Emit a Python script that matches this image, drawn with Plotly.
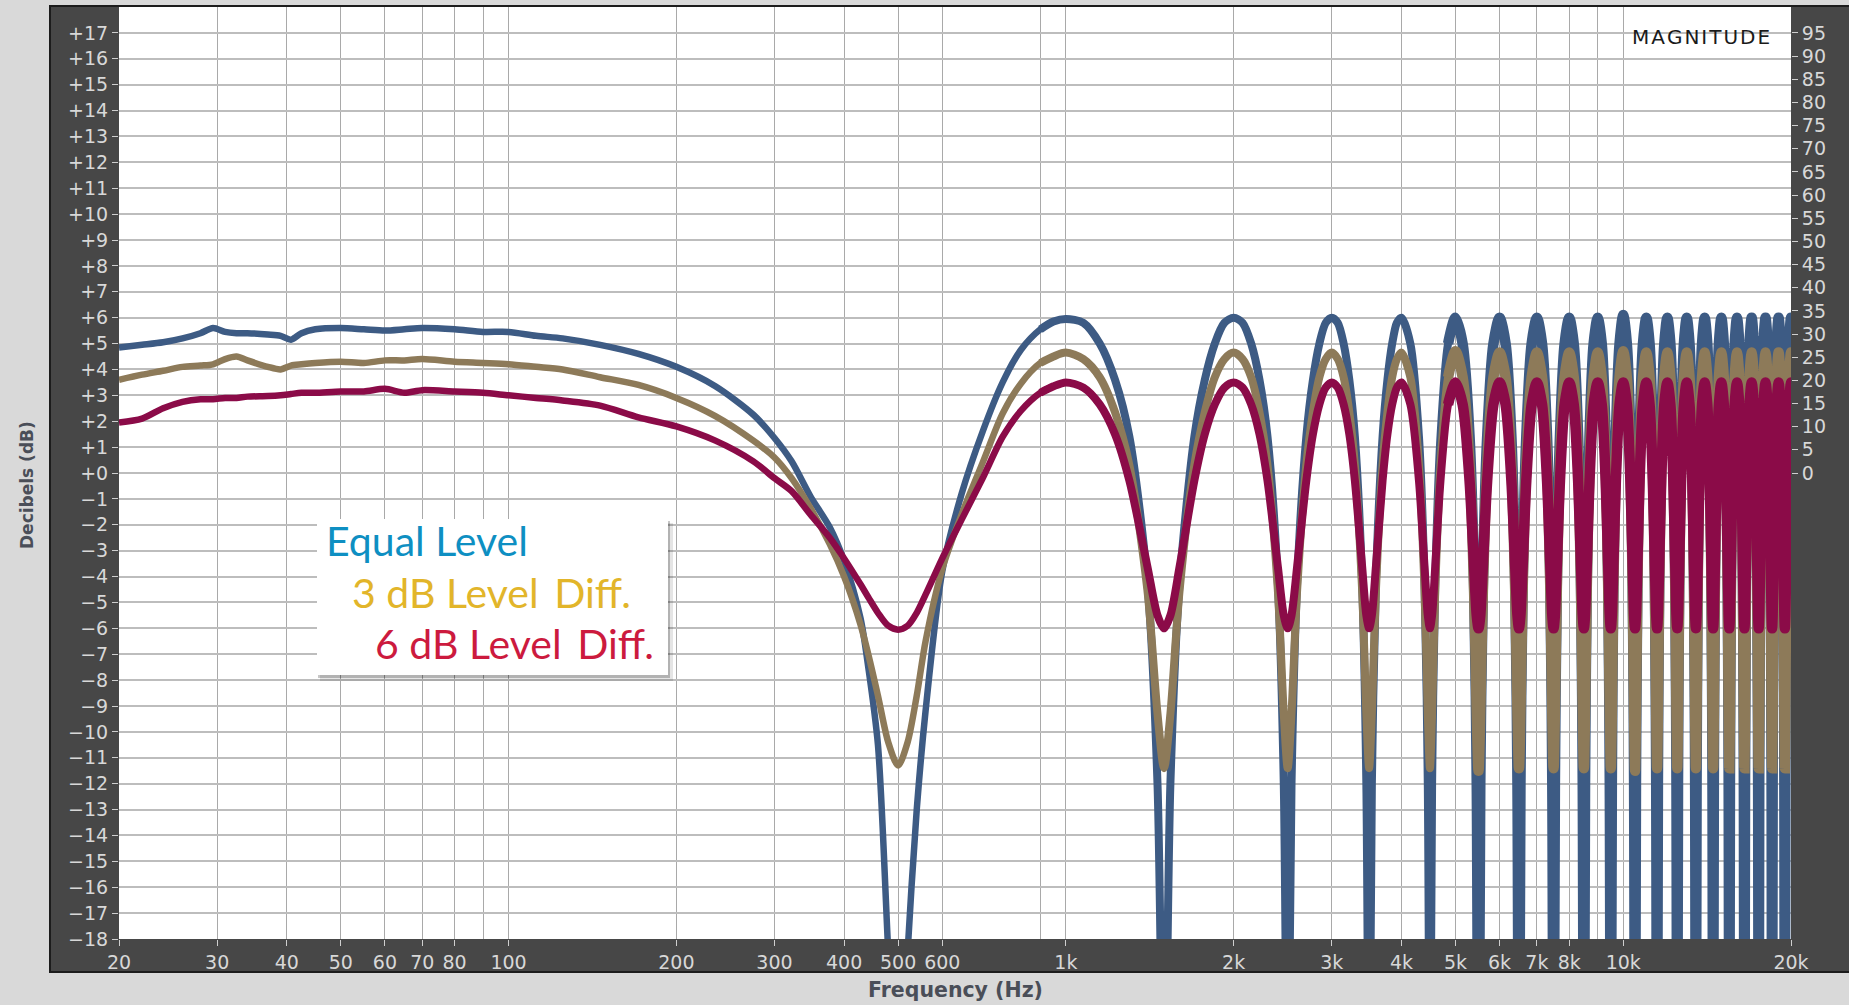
import math
import plotly.graph_objects as go

# ---------------- data ----------------
# low / mid frequency section (Hz)
freq_low_hz = [20, 22, 24, 26, 28, 29.5, 31, 32.5, 34, 37,
               39, 40.7, 42.5, 45, 50, 55, 60, 65, 70, 80,
               90, 100, 112, 125, 146, 171, 200, 235, 275, 300,
               322, 348, 377, 400, 428, 442, 460, 480, 500, 520,
               540, 560, 600, 650, 709, 770, 830, 900, 950]

equal_low_db = [4.85, 4.95, 5.05, 5.2, 5.4, 5.6, 5.45, 5.4, 5.4, 5.35,
                5.3, 5.15, 5.4, 5.55, 5.6, 5.55, 5.5, 5.55, 5.6, 5.55,
                5.45, 5.45, 5.3, 5.2, 4.95, 4.6, 4.1, 3.35, 2.25, 1.35,
                0.45, -0.9, -2.1, -3.4, -5.6, -7.5, -10.5, -18.5, -26.0, -18.5,
                -13.0, -9.2, -3.8, -0.8, 1.6, 3.5, 4.75, 5.55, 5.85]

diff3_low_db = [3.6, 3.8, 3.95, 4.1, 4.15, 4.2, 4.4, 4.5, 4.35, 4.1,
                4.0, 4.15, 4.2, 4.25, 4.3, 4.25, 4.35, 4.35, 4.4, 4.3,
                4.25, 4.2, 4.1, 4.0, 3.7, 3.4, 2.9, 2.2, 1.25, 0.6,
                -0.2, -1.35, -2.75, -4.0, -5.85, -7.0, -8.6, -10.4, -11.3, -10.4,
                -8.6, -6.5, -3.7, -1.6, 0.4, 2.3, 3.45, 4.25, 4.5]

diff6_low_db = [1.95, 2.1, 2.5, 2.75, 2.85, 2.85, 2.9, 2.9, 2.95, 2.97,
                3.0, 3.05, 3.1, 3.1, 3.15, 3.15, 3.25, 3.1, 3.2, 3.15,
                3.1, 3.0, 2.9, 2.8, 2.6, 2.15, 1.8, 1.25, 0.45, -0.2,
                -0.7, -1.6, -2.5, -3.3, -4.3, -4.8, -5.4, -5.9, -6.05, -5.9,
                -5.4, -4.7, -3.3, -1.8, -0.2, 1.4, 2.4, 3.1, 3.35]

# comb-filter section (Hz), 1 kHz to 20 kHz
freq_comb_hz = [
    1000, 1075, 1150, 1225, 1300, 1400, 1460, 1500, 1540, 1600, 1700, 1775, 1850, 1925,
    2000, 2075, 2150, 2225, 2300, 2400, 2460, 2500, 2540, 2600, 2700, 2775, 2850, 2925,
    3000, 3075, 3150, 3225, 3300, 3400, 3460, 3500, 3540, 3600, 3700, 3775, 3850, 3925,
    4000, 4150, 4300, 4400, 4460, 4500, 4540, 4600, 4700, 4850,
    5000, 5150, 5300, 5400, 5460, 5500, 5540, 5600, 5700, 5850,
    6000, 6150, 6300, 6400, 6460, 6500, 6540, 6600, 6700, 6850,
    7000, 7150, 7300, 7400, 7460, 7500, 7540, 7600, 7700, 7850,
    8000, 8150, 8300, 8400, 8460, 8500, 8540, 8600, 8700, 8850,
    9000, 9150, 9300, 9400, 9460, 9500, 9540, 9600, 9700, 9850,
    10000, 10150, 10300, 10400, 10460, 10500, 10540, 10600, 10700, 10850,
    11000, 11150, 11300, 11400, 11460, 11500, 11540, 11600, 11700, 11850,
    12000, 12150, 12300, 12400, 12460, 12500, 12540, 12600, 12700, 12850,
    13000, 13150, 13300, 13400, 13460, 13500, 13540, 13600, 13700, 13850,
    14000, 14150, 14300, 14400, 14460, 14500, 14540, 14600, 14700, 14850,
    15000, 15150, 15300, 15400, 15460, 15500, 15540, 15600, 15700, 15850,
    16000, 16150, 16300, 16400, 16460, 16500, 16540, 16600, 16700, 16850,
    17000, 17150, 17300, 17400, 17460, 17500, 17540, 17600, 17700, 17850,
    18000, 18150, 18300, 18400, 18460, 18500, 18540, 18600, 18700, 18850,
    19000, 19150, 19300, 19400, 19460, 19500, 19540, 19600, 19700, 19850,
    20000, 20150]

equal_comb_db = [
    5.95, 5.8, 5.0, 3.6, 1.4, -4.2, -12.0, -26.0, -12.0, -4.2, 1.4, 3.6, 5.0, 5.8,
    6.0, 5.8, 5.0, 3.6, 1.4, -4.2, -12.0, -26.0, -12.0, -4.2, 1.4, 3.6, 5.0, 5.8,
    6.0, 5.8, 5.0, 3.6, 1.4, -4.2, -12.0, -26.0, -12.0, -4.2, 1.4, 3.6, 5.0, 5.8,
    6.0, 5.0, 1.4, -4.2, -12.0, -26.0, -12.0, -4.2, 1.4, 5.0,
    6.0, 5.0, 1.4, -4.2, -12.0, -26.0, -12.0, -4.2, 1.4, 5.0,
    6.0, 5.0, 1.4, -4.2, -12.0, -26.0, -12.0, -4.2, 1.4, 5.0,
    6.0, 5.0, 1.4, -4.2, -12.0, -26.0, -12.0, -4.2, 1.4, 5.0,
    6.0, 5.0, 1.4, -4.2, -12.0, -26.0, -12.0, -4.2, 1.4, 5.0,
    6.0, 5.0, 1.4, -4.2, -12.0, -26.0, -12.0, -4.2, 1.4, 5.0,
    6.1, 5.0, 1.4, -4.2, -12.0, -26.0, -12.0, -4.2, 1.4, 5.0,
    6.0, 5.0, 1.4, -4.2, -12.0, -26.0, -12.0, -4.2, 1.4, 5.0,
    6.0, 5.0, 1.4, -4.2, -12.0, -26.0, -12.0, -4.2, 1.4, 5.0,
    6.0, 5.0, 1.4, -4.2, -12.0, -26.0, -12.0, -4.2, 1.4, 5.0,
    6.0, 5.0, 1.4, -4.2, -12.0, -26.0, -12.0, -4.2, 1.4, 5.0,
    6.0, 5.0, 1.4, -4.2, -12.0, -26.0, -12.0, -4.2, 1.4, 5.0,
    6.0, 5.0, 1.4, -4.2, -12.0, -26.0, -12.0, -4.2, 1.4, 5.0,
    6.0, 5.0, 1.4, -4.2, -12.0, -26.0, -12.0, -4.2, 1.4, 5.0,
    6.0, 5.0, 1.4, -4.2, -12.0, -26.0, -12.0, -4.2, 1.4, 5.0,
    6.0, 5.0, 1.4, -4.2, -12.0, -26.0, -12.0, -4.2, 1.4, 5.0,
    6.0, 5.0]

diff3_comb_db = [
    4.65, 4.4, 3.7, 2.35, 0.3, -4.5, -9.3, -11.4, -9.3, -4.5, 0.3, 2.35, 3.7, 4.4,
    4.65, 4.4, 3.7, 2.35, 0.3, -4.5, -9.3, -11.4, -9.3, -4.5, 0.3, 2.35, 3.7, 4.4,
    4.65, 4.4, 3.7, 2.35, 0.3, -4.5, -9.3, -11.4, -9.3, -4.5, 0.3, 2.35, 3.7, 4.4,
    4.65, 3.7, 0.3, -4.5, -9.3, -11.4, -9.3, -4.5, 0.3, 3.7,
    4.7, 3.7, 0.3, -4.5, -9.3, -11.5, -9.3, -4.5, 0.3, 3.7,
    4.65, 3.7, 0.3, -4.5, -9.3, -11.4, -9.3, -4.5, 0.3, 3.7,
    4.65, 3.7, 0.3, -4.5, -9.3, -11.4, -9.3, -4.5, 0.3, 3.7,
    4.65, 3.7, 0.3, -4.5, -9.3, -11.4, -9.3, -4.5, 0.3, 3.7,
    4.65, 3.7, 0.3, -4.5, -9.3, -11.4, -9.3, -4.5, 0.3, 3.7,
    4.7, 3.7, 0.3, -4.5, -9.3, -11.5, -9.3, -4.5, 0.3, 3.7,
    4.65, 3.7, 0.3, -4.5, -9.3, -11.4, -9.3, -4.5, 0.3, 3.7,
    4.65, 3.7, 0.3, -4.5, -9.3, -11.4, -9.3, -4.5, 0.3, 3.7,
    4.65, 3.7, 0.3, -4.5, -9.3, -11.4, -9.3, -4.5, 0.3, 3.7,
    4.65, 3.7, 0.3, -4.5, -9.3, -11.4, -9.3, -4.5, 0.3, 3.7,
    4.65, 3.7, 0.3, -4.5, -9.3, -11.4, -9.3, -4.5, 0.3, 3.7,
    4.65, 3.7, 0.3, -4.5, -9.3, -11.4, -9.3, -4.5, 0.3, 3.7,
    4.65, 3.7, 0.3, -4.5, -9.3, -11.4, -9.3, -4.5, 0.3, 3.7,
    4.65, 3.7, 0.3, -4.5, -9.3, -11.4, -9.3, -4.5, 0.3, 3.7,
    4.65, 3.7, 0.3, -4.5, -9.3, -11.4, -9.3, -4.5, 0.3, 3.7,
    4.65, 3.7]

diff6_comb_db = [
    3.5, 3.3, 2.65, 1.5, -0.3, -3.6, -5.5, -6.0, -5.5, -3.6, -0.3, 1.5, 2.65, 3.3,
    3.5, 3.3, 2.65, 1.5, -0.3, -3.6, -5.5, -6.0, -5.5, -3.6, -0.3, 1.5, 2.65, 3.3,
    3.5, 3.3, 2.65, 1.5, -0.3, -3.6, -5.5, -6.0, -5.5, -3.6, -0.3, 1.5, 2.65, 3.3,
    3.5, 2.65, -0.3, -3.6, -5.5, -6.0, -5.5, -3.6, -0.3, 2.65,
    3.5, 2.65, -0.3, -3.6, -5.5, -6.0, -5.5, -3.6, -0.3, 2.65,
    3.5, 2.65, -0.3, -3.6, -5.5, -6.0, -5.5, -3.6, -0.3, 2.65,
    3.5, 2.65, -0.3, -3.6, -5.5, -6.0, -5.5, -3.6, -0.3, 2.65,
    3.5, 2.65, -0.3, -3.6, -5.5, -6.0, -5.5, -3.6, -0.3, 2.65,
    3.5, 2.65, -0.3, -3.6, -5.5, -6.0, -5.5, -3.6, -0.3, 2.65,
    3.5, 2.65, -0.3, -3.6, -5.5, -6.0, -5.5, -3.6, -0.3, 2.65,
    3.5, 2.65, -0.3, -3.6, -5.5, -6.0, -5.5, -3.6, -0.3, 2.65,
    3.5, 2.65, -0.3, -3.6, -5.5, -6.0, -5.5, -3.6, -0.3, 2.65,
    3.5, 2.65, -0.3, -3.6, -5.5, -6.0, -5.5, -3.6, -0.3, 2.65,
    3.5, 2.65, -0.3, -3.6, -5.5, -6.0, -5.5, -3.6, -0.3, 2.65,
    3.5, 2.65, -0.3, -3.6, -5.5, -6.0, -5.5, -3.6, -0.3, 2.65,
    3.5, 2.65, -0.3, -3.6, -5.5, -6.0, -5.5, -3.6, -0.3, 2.65,
    3.5, 2.65, -0.3, -3.6, -5.5, -6.0, -5.5, -3.6, -0.3, 2.65,
    3.5, 2.65, -0.3, -3.6, -5.5, -6.0, -5.5, -3.6, -0.3, 2.65,
    3.5, 2.65, -0.3, -3.6, -5.5, -6.0, -5.5, -3.6, -0.3, 2.65,
    3.5, 2.65]

series_names = ["Equal Level", "3 dB Level Diff.", "6 dB Level Diff."]
legend_labels = ["Equal Level", "3 dB Level\u2009 Diff.", "6 dB Level\u2009 Diff."]

# tick labels
x_tick_vals = [20, 30, 40, 50, 60, 70, 80, 100, 200, 300, 400, 500, 600,
               1000, 2000, 3000, 4000, 5000, 6000, 7000, 8000, 10000, 20000]
x_tick_text = ["20", "30", "40", "50", "60", "70", "80", "100", "200", "300",
               "400", "500", "600", "1k", "2k", "3k", "4k", "5k", "6k", "7k",
               "8k", "10k", "20k"]
x_extra_grid = [90, 900, 9000]
y_tick_vals = list(range(-18, 18))
y_tick_text = [("+%d" % v) if v >= 0 else ("\u2212%d" % (-v)) for v in y_tick_vals]
right_tick_vals = list(range(0, 100, 5))

# ---------------- figure ----------------
W, H = 1849, 1005
L, R, T, B = 119, 58, 7, 66
PW, PH = W - L - R, H - T - B


def px_x(px):
    return (px - L) / PW


def px_y(py):
    return (H - B - py) / PH


line_colors = ["#3d5b84", "#8d7a59", "#8b0b48"]
value_sets = [equal_low_db + equal_comb_db,
              diff3_low_db + diff3_comb_db,
              diff6_low_db + diff6_comb_db]
freq_hz = freq_low_hz + freq_comb_hz

# the measured stroke gets heavier with frequency; overlapping ranges keep
# the spline joins hidden
segments = [(0, 1150, 6.5), (850, 5150, 8.0), (4850, 1e9, 10.5)]

fig = go.Figure()
for name, vals, col in zip(series_names, value_sets, line_colors):
    for lo, hi, wd in segments:
        xs = [f for f in freq_hz if lo <= f <= hi]
        ys = [v for f, v in zip(freq_hz, vals) if lo <= f <= hi]
        fig.add_trace(go.Scatter(
            x=xs, y=ys, mode="lines", name=name,
            line=dict(color=col, width=wd, shape="spline", smoothing=0.8),
            showlegend=False, hoverinfo="skip"))

# carrier for the right-hand scale
fig.add_trace(go.Scatter(x=[], y=[], yaxis="y2", showlegend=False, hoverinfo="skip"))

tick_font = dict(family="DejaVu Sans", size=19, color="#d8d8d8")

shapes = [
    dict(type="rect", xref="paper", yref="paper", layer="below",
         x0=px_x(50), x1=px_x(W + 10), y0=px_y(972), y1=px_y(6),
         fillcolor="#474747", line=dict(color="#1c1c1c", width=2)),
    dict(type="rect", xref="paper", yref="paper", layer="below",
         x0=0, x1=1, y0=0, y1=1, fillcolor="#ffffff", line=dict(width=0)),
    # legend box shadow + box
    dict(type="rect", xref="paper", yref="paper", layer="above",
         x0=px_x(320), x1=px_x(673), y0=px_y(681), y1=px_y(523),
         fillcolor="rgba(0,0,0,0.10)", line=dict(width=0)),
    dict(type="rect", xref="paper", yref="paper", layer="above",
         x0=px_x(318), x1=px_x(670), y0=px_y(678), y1=px_y(521),
         fillcolor="rgba(0,0,0,0.22)", line=dict(width=0)),
    dict(type="rect", xref="paper", yref="paper", layer="above",
         x0=px_x(317), x1=px_x(668), y0=px_y(675), y1=px_y(519),
         fillcolor="#ffffff", line=dict(width=0)),
]

legend_colors = ["#0e8fc2", "#e2b52a", "#cc1a3e"]
legend_left = [324, 350, 373]
legend_mid = [541, 592, 643]

annotations = []
for txt, col, lx, my in zip(legend_labels, legend_colors, legend_left, legend_mid):
    annotations.append(dict(
        text=txt, xref="paper", yref="paper", x=px_x(lx), y=px_y(my),
        xanchor="left", yanchor="middle", showarrow=False,
        font=dict(family="Lato", size=41, color=col)))

annotations += [
    dict(text="M\u200aA\u200aG\u200aN\u200aI\u200aT\u200aU\u200aD\u200aE",
         xref="paper", yref="paper", x=px_x(1772), y=px_y(37),
         xanchor="right", yanchor="middle", showarrow=False,
         font=dict(family="DejaVu Sans", size=20, color="#1a1a1a")),
    dict(text="<b>Decibels (dB)</b>", xref="paper", yref="paper",
         x=px_x(27), y=px_y(485), xanchor="center", yanchor="middle",
         textangle=-90, showarrow=False,
         font=dict(family="DejaVu Sans", size=17, color="#4a4e58")),
    dict(text="<b>Frequency (Hz)</b>", xref="paper", yref="paper",
         x=px_x(955), y=px_y(990), xanchor="center", yanchor="middle",
         showarrow=False,
         font=dict(family="DejaVu Sans", size=20.5, color="#4a4e58")),
]

fig.update_layout(
    width=W, height=H,
    margin=dict(l=L, r=R, t=T, b=B, pad=0),
    paper_bgcolor="#d9d9d9", plot_bgcolor="#ffffff",
    showlegend=False,
    shapes=shapes, annotations=annotations,
    xaxis=dict(type="log", range=[math.log10(20), math.log10(20000)],
               tickmode="array", tickvals=x_tick_vals, ticktext=x_tick_text,
               ticks="outside", ticklen=6, tickwidth=1, tickcolor="#cfcfcf",
               tickfont=tick_font, showgrid=True, gridcolor="#a9a9a9",
               gridwidth=1, zeroline=False, showline=False, fixedrange=True,
               minor=dict(tickmode="array", tickvals=x_extra_grid, ticks="",
                          showgrid=True, gridcolor="#a9a9a9", gridwidth=1)),
    yaxis=dict(range=[-18, 18], tickmode="array", tickvals=y_tick_vals,
               ticktext=y_tick_text, ticks="outside", ticklen=6, tickwidth=1,
               tickcolor="#cfcfcf", tickfont=tick_font, showgrid=True,
               gridcolor="#bdbdbd", gridwidth=2, zeroline=False,
               showline=False, fixedrange=True),
    yaxis2=dict(overlaying="y", side="right",
                range=[-18 * 95 / 17, 18 * 95 / 17], tickmode="array",
                tickvals=right_tick_vals, ticks="outside", ticklen=6,
                tickwidth=1, tickcolor="#cfcfcf", tickfont=tick_font,
                showgrid=False, zeroline=False, showline=False,
                fixedrange=True),
)

fig.write_html("out.html", config={"displayModeBar": False})
